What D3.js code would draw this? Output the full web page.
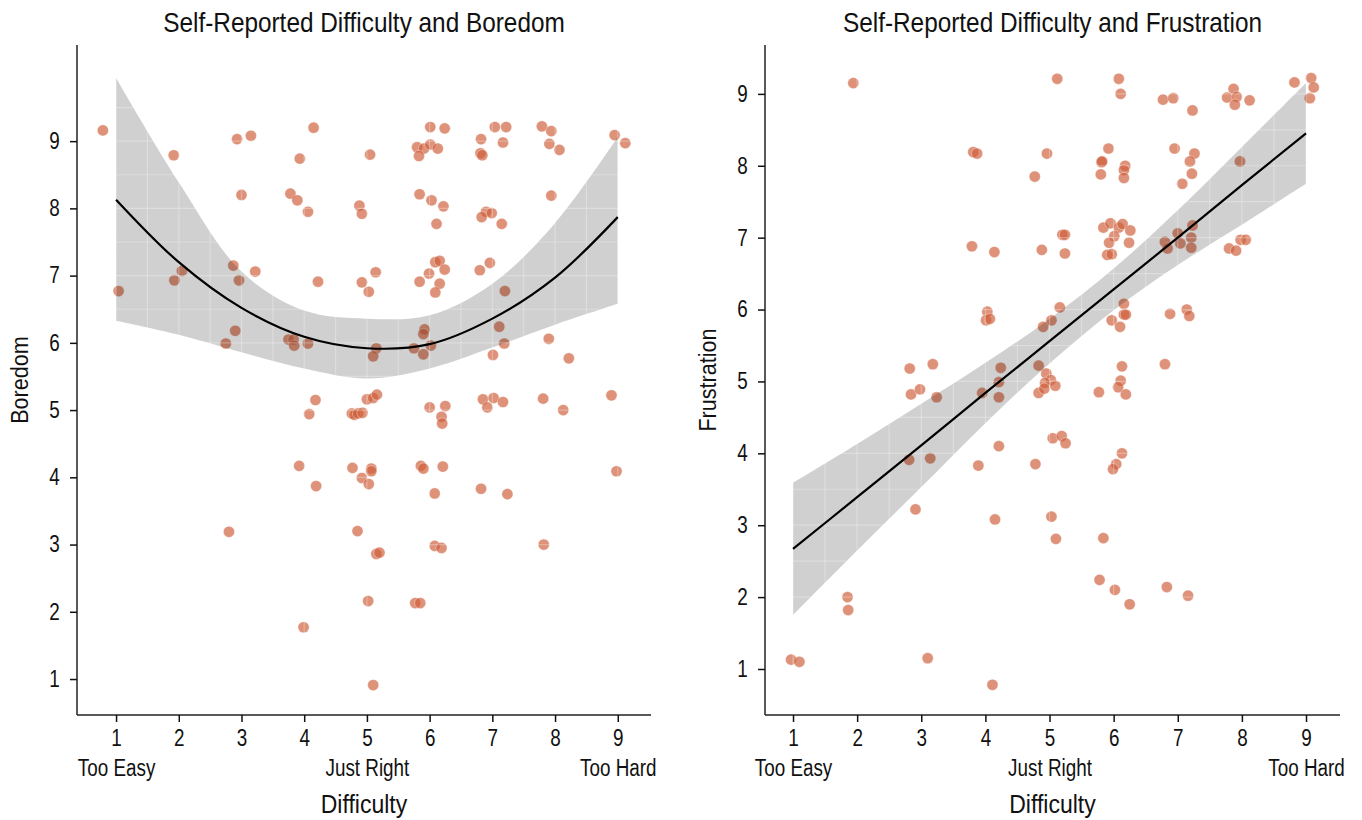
<!DOCTYPE html>
<html>
<head>
<meta charset="utf-8">
<script src="https://cdn.jsdelivr.net/npm/d3@7"></script>
<style>
  body { margin: 0; background: #fff; }
  svg text { font-family: "Liberation Sans", Arial, sans-serif; fill: #111; }
</style>
</head>
<body>
<div id="chart"></div>
<script>
// tick labels on the difficulty axis
const difficultyTicks = [1, 2, 3, 4, 5, 6, 7, 8, 9];
const difficultyNotes = ["Too Easy", "", "", "", "Just Right", "", "", "", "Too Hard"];
const scoreTicks = [1, 2, 3, 4, 5, 6, 7, 8, 9];

// boredom scatter (difficulty, boredom), jittered values
const boredomX = [0.79, 2.93, 3.15, 4.15, 1.92, 3.93, 3.00, 3.78, 3.89, 4.06, 4.88, 4.92, 2.87, 2.05, 3.22, 1.93,
  2.96, 4.22, 4.92, 1.04, 2.90, 2.75, 3.75, 3.83, 3.84, 4.06, 4.18, 4.08, 4.76, 4.80, 4.86, 5.05, 6.01, 6.24,
  5.80, 5.91, 6.01, 6.13, 5.83, 6.82, 7.04, 7.22, 7.17, 6.81, 6.84, 7.79, 7.94, 7.91, 8.07, 8.95, 9.12, 5.84,
  6.03, 6.22, 6.11, 6.90, 6.99, 6.83, 7.15, 7.94, 5.14, 5.03, 6.09, 6.16, 6.24, 5.99, 5.84, 6.16, 6.09, 6.80,
  6.96, 7.20, 7.90, 8.22, 7.11, 7.19, 7.01, 5.92, 5.90, 5.75, 6.02, 5.90, 5.15, 5.10, 5.00, 5.10, 5.16, 4.93,
  6.00, 6.25, 6.19, 6.20, 6.85, 7.02, 6.92, 7.17, 7.81, 8.13, 8.90, 3.92, 4.19, 2.80, 4.77, 4.92, 5.03, 5.07,
  5.07, 4.85, 3.99, 5.02, 5.10, 5.86, 5.90, 6.21, 6.08, 6.82, 7.24, 5.15, 5.20, 6.08, 6.19, 7.82, 8.98, 5.77, 5.85];
const boredomY = [9.16, 9.03, 9.08, 9.20, 8.79, 8.74, 8.20, 8.22, 8.12, 7.95, 8.04, 7.92, 7.15, 7.07, 7.06, 6.93,
  6.93, 6.91, 6.90, 6.77, 6.18, 5.99, 6.05, 6.05, 5.96, 5.99, 5.15, 4.94, 4.95, 4.93, 4.95, 8.80, 9.21, 9.19,
  8.91, 8.89, 8.95, 8.89, 8.78, 9.03, 9.21, 9.21, 8.98, 8.82, 8.79, 9.22, 9.15, 8.96, 8.87, 9.09, 8.97, 8.21,
  8.12, 8.03, 7.77, 7.95, 7.93, 7.87, 7.77, 8.19, 7.05, 6.76, 7.20, 7.22, 7.09, 7.03, 6.91, 6.88, 6.75, 7.08,
  7.19, 6.77, 6.06, 5.77, 6.24, 5.99, 5.82, 6.20, 6.13, 5.92, 5.96, 5.83, 5.92, 5.80, 5.16, 5.18, 5.23, 4.96,
  5.04, 5.06, 4.90, 4.80, 5.16, 5.18, 5.04, 5.12, 5.17, 5.00, 5.22, 4.17, 3.87, 3.19, 4.14, 3.99, 3.90, 4.13,
  4.09, 3.20, 1.77, 2.16, 0.91, 4.17, 4.13, 4.16, 3.76, 3.83, 3.75, 2.86, 2.88, 2.98, 2.95, 3.00, 4.09, 2.13, 2.13];

// frustration scatter (difficulty, frustration)
const frustrationX = [1.94, 5.12, 3.81, 3.87, 4.96, 4.77, 3.79, 4.14, 4.88, 4.03, 4.01, 4.07, 4.90, 5.03, 2.82, 3.18,
  4.24, 4.21, 4.83, 4.95, 5.02, 4.93, 5.09, 6.08, 6.11, 6.77, 6.93, 7.23, 7.87, 7.77, 7.92, 7.89, 8.12, 8.82,
  9.08, 9.12, 9.06, 5.92, 5.81, 5.82, 6.18, 6.16, 5.80, 6.16, 6.95, 7.26, 7.19, 7.22, 7.07, 7.97, 5.84, 5.95,
  6.08, 6.14, 6.26, 6.01, 5.93, 6.24, 5.90, 5.97, 5.20, 5.24, 5.24, 6.80, 6.84, 7.00, 7.04, 7.23, 7.21, 7.21,
  7.98, 8.06, 7.80, 7.91, 5.16, 6.16, 6.16, 6.19, 5.97, 6.10, 6.88, 7.14, 7.18, 6.13, 6.80, 6.11, 6.07, 5.77,
  2.84, 2.98, 3.24, 3.95, 4.21, 4.83, 4.92, 5.05, 5.19, 5.25, 4.21, 3.89, 4.78, 2.81, 3.14, 2.91, 4.15, 5.03,
  5.10, 1.85, 1.86, 0.97, 1.10, 3.10, 4.11, 6.19, 6.13, 6.04, 5.99, 5.84, 5.78, 6.02, 6.25, 6.83, 7.16];
const frustrationY = [9.15, 9.21, 8.19, 8.17, 8.17, 7.85, 6.88, 6.80, 6.83, 5.97, 5.85, 5.87, 5.76, 5.85, 5.18, 5.24,
  5.19, 4.99, 5.22, 5.11, 5.02, 4.98, 4.94, 9.21, 9.00, 8.92, 8.94, 8.77, 9.07, 8.95, 8.96, 8.85, 8.91, 9.16,
  9.22, 9.09, 8.94, 8.24, 8.05, 8.06, 8.00, 7.94, 7.88, 7.83, 8.24, 8.17, 8.06, 7.89, 7.75, 8.06, 7.14, 7.20,
  7.14, 7.19, 7.10, 7.02, 6.93, 6.93, 6.76, 6.77, 7.04, 7.04, 6.78, 6.94, 6.85, 7.06, 6.92, 7.17, 7.00, 6.86,
  6.97, 6.97, 6.85, 6.82, 6.03, 6.08, 5.93, 5.93, 5.85, 5.76, 5.94, 6.00, 5.91, 5.21, 5.24, 5.01, 4.92, 4.85,
  4.82, 4.89, 4.78, 4.84, 4.78, 4.84, 4.90, 4.21, 4.24, 4.14, 4.10, 3.83, 3.85, 3.91, 3.93, 3.22, 3.08, 3.12,
  2.81, 2.00, 1.82, 1.13, 1.10, 1.15, 0.78, 4.82, 4.00, 3.85, 3.78, 2.82, 2.24, 2.10, 1.90, 2.14, 2.02];

// fitted curves and their confidence bands, read at each difficulty level
const fitX = [1, 2, 3, 4, 5, 6, 7, 8, 9];
const boredomFit = [8.13, 7.20, 6.52, 6.09, 5.92, 5.98, 6.36, 6.97, 7.87];
const boredomHi = [9.94, 8.39, 7.06, 6.48, 6.36, 6.41, 6.88, 7.78, 9.06];
const boredomLo = [6.33, 6.12, 5.86, 5.62, 5.47, 5.62, 5.93, 6.27, 6.58];
const frustrationFit = [2.67, 3.39, 4.11, 4.84, 5.56, 6.28, 7.00, 7.73, 8.45];
const frustrationHi = [3.59, 4.13, 4.69, 5.26, 5.87, 6.57, 7.38, 8.26, 9.15];
const frustrationLo = [1.75, 2.65, 3.53, 4.42, 5.25, 5.99, 6.62, 7.18, 7.75];

// condensed look: the chart font is a narrow sans
const narrow = s => `scale(${s},1)`;

const svg = d3.select("#chart").append("svg")
  .attr("width", 1362)
  .attr("height", 820);

function drawPanel(opt) {
  const { left, right, top, bottom } = opt;
  const x = d3.scaleLinear().domain(opt.xDomain).range([left, right]);
  const y = d3.scaleLinear().domain(opt.yDomain).range([bottom, top]);
  const g = svg.append("g");

  // scatter
  const pts = opt.xs.map((v, i) => ({ x: v, y: opt.ys[i] }));
  g.append("g").selectAll("circle")
    .data(pts)
    .enter()
    .append("circle")
    .attr("cx", d => x(d.x))
    .attr("cy", d => y(d.y))
    .attr("r", 5.6)
    .attr("fill", "#cf5f3a")
    .attr("fill-opacity", 0.68)
    .attr("stroke", "#fff")
    .attr("stroke-opacity", 0.45)
    .attr("stroke-width", 0.8);

  // confidence band
  const band = fitX.map((v, i) => ({ x: v, lo: opt.lo[i], hi: opt.hi[i], fit: opt.fit[i] }));
  g.append("path")
    .datum(band)
    .attr("d", d3.area().curve(d3.curveCatmullRom)
      .x(d => x(d.x)).y0(d => y(d.lo)).y1(d => y(d.hi)))
    .attr("fill", "#000")
    .attr("fill-opacity", 0.185);

  // faint grid, only shows on top of band and points
  const gridX = d3.range(Math.ceil(opt.xDomain[0] * 2) / 2, opt.xDomain[1], 0.5);
  const gridY = d3.range(Math.ceil(opt.yDomain[0] * 2) / 2, opt.yDomain[1], 0.5);
  const grid = g.append("g").attr("stroke", "#fff").attr("stroke-opacity", 0.28).attr("stroke-width", 1.2);
  grid.selectAll("line.gx").data(gridX).enter().append("line")
    .attr("x1", d => x(d)).attr("x2", d => x(d)).attr("y1", top).attr("y2", bottom);
  grid.selectAll("line.gy").data(gridY).enter().append("line")
    .attr("x1", left).attr("x2", right).attr("y1", d => y(d)).attr("y2", d => y(d));

  // fitted line
  g.append("path")
    .datum(band)
    .attr("d", d3.line().curve(d3.curveCatmullRom).x(d => x(d.x)).y(d => y(d.fit)))
    .attr("fill", "none")
    .attr("stroke", "#000")
    .attr("stroke-width", 2.2);

  // Axes
  const xAxis = g.append("g")
    .attr("transform", `translate(0,${bottom})`)
    .call(d3.axisBottom(x).tickValues(difficultyTicks).tickSize(7).tickPadding(8).tickFormat(d3.format("d")));
  xAxis.selectAll(".tick text")
    .style("font-size", "23px")
    .attr("transform", narrow(0.82))
    .each(function (d, i) {
      const note = difficultyNotes[i];
      if (!note) return;
      d3.select(this).append("tspan")
        .attr("x", 0)
        .attr("dy", "1.3em")
        .text(note);
    });

  const yAxis = g.append("g")
    .attr("transform", `translate(${left},0)`)
    .call(d3.axisLeft(y).tickValues(scoreTicks).tickSize(7).tickPadding(14).tickFormat(d3.format("d")));
  yAxis.selectAll(".tick text")
    .style("font-size", "23px")
    .attr("transform", narrow(0.82));

  [xAxis, yAxis].forEach(a => {
    a.select(".domain").attr("stroke", "#222").attr("stroke-width", 1.5);
    a.selectAll(".tick line").attr("stroke", "#111").attr("stroke-width", 1.5);
  });
  xAxis.select(".domain").attr("d", `M${left},0H${right}`);
  yAxis.select(".domain").attr("d", `M0,${top}V${bottom}`);

  // Axis Labels
  g.append("text")
    .attr("text-anchor", "middle")
    .attr("transform", `translate(${(left + right) / 2},813) ${narrow(0.92)}`)
    .style("font-size", "25px")
    .text("Difficulty");

  g.append("text")
    .attr("text-anchor", "middle")
    .attr("transform", `translate(${left - 49},${(top + bottom) / 2}) rotate(-90) ${narrow(0.9)}`)
    .style("font-size", "24px")
    .text(opt.yLabel);

  g.append("text")
    .attr("text-anchor", "middle")
    .attr("transform", `translate(${(left + right) / 2},32) ${narrow(0.87)}`)
    .style("font-size", "28px")
    .text(opt.title);
}

drawPanel({
  left: 77, right: 651, top: 45, bottom: 715,
  xDomain: [0.377, 9.53], yDomain: [0.465, 10.43],
  xs: boredomX, ys: boredomY,
  fit: boredomFit, lo: boredomLo, hi: boredomHi,
  yLabel: "Boredom",
  title: "Self-Reported Difficulty and Boredom"
});

drawPanel({
  left: 765, right: 1340, top: 45, bottom: 715,
  xDomain: [0.563, 9.53], yDomain: [0.36, 9.68],
  xs: frustrationX, ys: frustrationY,
  fit: frustrationFit, lo: frustrationLo, hi: frustrationHi,
  yLabel: "Frustration",
  title: "Self-Reported Difficulty and Frustration"
});
</script>
</body>
</html>
